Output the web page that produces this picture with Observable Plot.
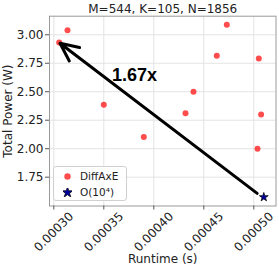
<!DOCTYPE html>
<html><head>
<meta charset="utf-8">
<script src="https://cdn.jsdelivr.net/npm/d3@7"></script>
<script src="https://cdn.jsdelivr.net/npm/@observablehq/plot@0.6"></script>
<style>
body{margin:0;background:#fff;font-family:"DejaVu Sans",sans-serif}
#chart{position:relative;width:279px;height:271px}
#chart svg text{font-family:"DejaVu Sans",sans-serif}
#chart svg text.bold{font-family:"Liberation Sans",Arial,sans-serif}
#legend{position:absolute;left:53px;top:166px;width:72px;height:33px;border:1px solid #d0d0d0;border-radius:3px;background:rgba(255,255,255,0.8);font-size:10.5px;color:#222}
.row{position:absolute;left:0;height:14px;display:flex;align-items:center}
.row svg{margin-left:9px;margin-right:8px}
</style>
</head><body>
<div id="chart"><div id="legend"></div></div>
<script>
const title = "M=544, K=105, N=1856";
const xLabel = "Runtime (s)";
const yLabel = "Total Power (W)";
const seriesNames = ["DiffAxE", "O(10⁴)"];
const diffRuntime = [0.0003054, 0.0003137, 0.0003500, 0.0003900, 0.0004317, 0.0004397, 0.0004630, 0.0004730, 0.0005050, 0.0005073, 0.0005037];
const diffPower   = [2.932, 3.040, 2.386, 2.102, 2.312, 2.500, 2.816, 3.088, 2.792, 2.300, 2.000];
const baseRuntime = [0.0005100];
const basePower   = [1.575];
const arrowFrom = [0.0005034, 1.608];
const arrowTo   = [0.0003062, 2.925];
const speedupLabel = "1.67x";
const speedupPos = [0.0003807, 2.643];
const xTicks = [0.00030, 0.00035, 0.00040, 0.00045, 0.00050];
const yTicks = [1.75, 2.00, 2.25, 2.50, 2.75, 3.00];
const xDomain = [0.0002957, 0.0005222];
const yDomain = [1.497, 3.163];

const diff = diffRuntime.map((x, i) => ({x, y: diffPower[i]}));
const base = baseRuntime.map((x, i) => ({x, y: basePower[i]}));

const chart = Plot.plot({
  width: 279, height: 271,
  marginLeft: 49, marginRight: 3.5, marginTop: 15.7, marginBottom: 65.5,
  style: {fontFamily: "'DejaVu Sans', sans-serif", fontSize: "12px", background: "#fff", color: "#222"},
  x: {domain: xDomain},
  y: {domain: yDomain},
  marks: [
    Plot.gridX(xTicks, {stroke: "#e3e3e3", strokeOpacity: 1}),
    Plot.gridY(yTicks, {stroke: "#e3e3e3", strokeOpacity: 1}),
    Plot.frame({stroke: "#9a9a9a"}),
    Plot.axisY({ticks: yTicks, tickFormat: d => d.toFixed(2), tickSize: 4, tickPadding: 2, fontSize: "12px", label: null, stroke: "#555"}),
    Plot.axisX({ticks: xTicks, tickFormat: () => "", tickSize: 4, label: null, stroke: "#555"}),
    Plot.text(xTicks, {x: d => d, text: d => d.toFixed(5), frameAnchor: "bottom", dy: 26, rotate: -45, textAnchor: "middle", lineAnchor: "middle", fontSize: "12px", fill: "#222"}),
    Plot.text([xLabel], {frameAnchor: "bottom", dy: 53.5, textAnchor: "middle", lineAnchor: "middle", fontSize: "12px", fill: "#222"}),
    Plot.text([yLabel], {frameAnchor: "left", dx: -41, rotate: -90, textAnchor: "middle", lineAnchor: "middle", fontSize: "12px", fill: "#222"}),
    Plot.text([title], {frameAnchor: "top", dy: -7, textAnchor: "middle", lineAnchor: "middle", fontSize: "12px", fill: "#222"}),
    Plot.dot(diff, {x: "x", y: "y", r: 3, fill: "red", fillOpacity: 0.7}),
    Plot.arrow([0], {x1: arrowFrom[0], y1: arrowFrom[1], x2: arrowTo[0], y2: arrowTo[1], stroke: "black", strokeWidth: 3, headLength: 10, headAngle: 50}),
    Plot.dot(base, {x: "x", y: "y", symbol: "star", r: 2.8, fill: "#0000a0", stroke: "black", strokeWidth: 0.7}),
    Plot.text([speedupLabel], {x: speedupPos[0], y: speedupPos[1], fontSize: "18px", fontWeight: "bold", fill: "black"})
  ]
});
const container = document.getElementById("chart");
container.insertBefore(chart, container.firstChild);
d3.select(chart).selectAll("text").filter(function(){ return this.textContent === speedupLabel; }).attr("class", "bold");

const legend = document.getElementById("legend");
const circleSvg = '<svg width="9" height="9" viewBox="-4.5 -4.5 9 9"><circle r="3.2" fill="red" fill-opacity="0.7"/></svg>';
const starPath = d3.symbol(d3.symbolStar, 36)();
const starSvg = '<svg width="9" height="9" viewBox="-4.5 -4.5 9 9"><path d="' + starPath + '" fill="#0000a0" stroke="black" stroke-width="0.7"/></svg>';
legend.innerHTML =
  '<div class="row" style="top:2px">' + circleSvg + '<span>' + seriesNames[0] + '</span></div>' +
  '<div class="row" style="top:18px">' + starSvg + '<span>' + seriesNames[1] + '</span></div>';
</script>
</body></html>
